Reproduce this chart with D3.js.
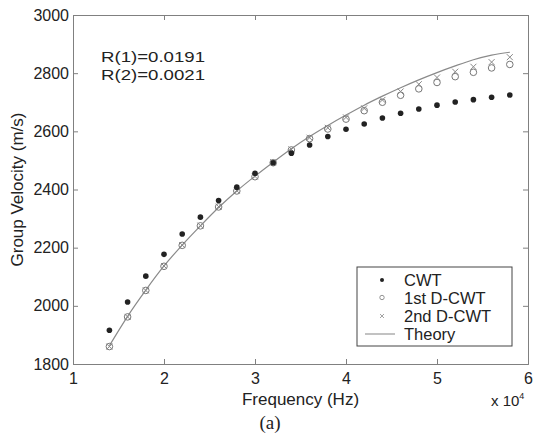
<!DOCTYPE html>
<html>
<head>
<meta charset="utf-8">
<script src="https://cdn.jsdelivr.net/npm/d3@7"></script>
<style>
  body { margin: 0; background: #fff; }
  text { font-family: "Liberation Sans", Arial, sans-serif; fill: #222; }
</style>
</head>
<body>
<div id="container"></div>
<script>
// frequency in units of 10^4 Hz
let freq = [1.4, 1.6, 1.8, 2.0, 2.2, 2.4, 2.6, 2.8, 3.0, 3.2, 3.4, 3.6,
            3.8, 4.0, 4.2, 4.4, 4.6, 4.8, 5.0, 5.2, 5.4, 5.6, 5.8];
let cwt = [1916, 2013, 2102, 2177, 2247, 2305, 2362, 2408, 2456, 2492, 2525, 2553,
           2582, 2607, 2625, 2646, 2662, 2677, 2690, 2701, 2709, 2717, 2725];
let dcwt1 = [1860, 1962, 2053, 2136, 2208, 2275, 2340, 2395, 2444, 2492, 2536, 2575,
             2608, 2642, 2671, 2700, 2724, 2746, 2768, 2788, 2803, 2818, 2830];
let dcwt2 = [1860, 1962, 2053, 2137, 2209, 2276, 2341, 2396, 2445, 2494, 2538, 2578,
             2612, 2648, 2679, 2708, 2737, 2762, 2785, 2805, 2822, 2838, 2855];
let theory = [1863, 1964, 2054, 2137, 2209, 2275, 2338, 2395, 2446, 2494, 2540, 2582,
              2620, 2656, 2690, 2721, 2750, 2777, 2802, 2825, 2846, 2862, 2872];
let xTicks = [1, 2, 3, 4, 5, 6];
let yTicks = [1800, 2000, 2200, 2400, 2600, 2800, 3000];
let legendLabels = ["CWT", "1st D-CWT", "2nd D-CWT", "Theory"];
let notes = ["R(1)=0.0191", "R(2)=0.0021"];

let svg = d3.select("#container")
  .append("svg")
    .attr("width", 533)
    .attr("height", 444)
;

let plotLeft = 73, plotRight = 528, plotTop = 15, plotBottom = 364;

let x = d3.scaleLinear().domain([1, 6]).range([plotLeft, plotRight]);
let y = d3.scaleLinear().domain([1800, 3000]).range([plotBottom, plotTop]);

let frameColor = "#808080";

// axes with inward ticks
let xAxis = svg.append("g")
  .attr("transform", "translate(0," + plotBottom + ")")
  .call(d3.axisBottom(x).tickValues(xTicks).tickSize(-5).tickPadding(9).tickFormat(d3.format("d")));
let xAxisTop = svg.append("g")
  .attr("transform", "translate(0," + plotTop + ")")
  .call(d3.axisTop(x).tickValues(xTicks).tickSize(-5).tickFormat(""));
let yAxis = svg.append("g")
  .attr("transform", "translate(" + plotLeft + ",0)")
  .call(d3.axisLeft(y).tickValues(yTicks).tickSize(-5).tickPadding(4).tickFormat(d3.format("d")));
let yAxisRight = svg.append("g")
  .attr("transform", "translate(" + plotRight + ",0)")
  .call(d3.axisRight(y).tickValues(yTicks).tickSize(-5).tickFormat(""));

[xAxis, xAxisTop, yAxis, yAxisRight].forEach(function(a){
  a.selectAll("path.domain").attr("stroke", frameColor);
  a.selectAll(".tick line").attr("stroke", frameColor);
  a.selectAll(".tick text")
    .style("font-family", "Liberation Sans, Arial, sans-serif")
    .style("font-size", "16px")
    .attr("fill", "#222");
});

// axis labels
svg.append("text")
  .attr("x", (plotLeft + plotRight) / 2)
  .attr("y", 405)
  .attr("text-anchor", "middle")
  .style("font-size", "17px")
  .text("Frequency (Hz)");

let expo = svg.append("text")
  .attr("x", 491)
  .attr("y", 406)
  .style("font-size", "15px");
expo.append("tspan").text("x 10");
expo.append("tspan").attr("dy", -7).style("font-size", "9px").text("4");

svg.append("text")
  .attr("transform", "translate(23," + (plotTop + plotBottom) / 2 + ") rotate(-90)")
  .attr("text-anchor", "middle")
  .style("font-size", "17px")
  .text("Group Velocity (m/s)");

svg.append("text")
  .attr("x", 270)
  .attr("y", 429)
  .attr("text-anchor", "middle")
  .style("font-family", "Liberation Serif, Times New Roman, serif")
  .style("font-size", "19px")
  .text("(a)");

// annotation, stretched a little like the original
svg.selectAll(".note").data(notes).enter()
  .append("text")
    .attr("class", "note")
    .attr("x", 101)
    .attr("y", function(d, i){ return 62 + i * 17.5; })
    .attr("textLength", 104)
    .attr("lengthAdjust", "spacingAndGlyphs")
    .style("font-size", "15px")
    .text(function(d){ return d; });

// theory line
let line = d3.line()
  .x(function(d, i){ return x(freq[i]); })
  .y(function(d){ return y(d); })
  .curve(d3.curveMonotoneX);

svg.append("path")
  .datum(theory)
  .attr("d", line)
  .attr("fill", "none")
  .attr("stroke", "#8a8a8a")
  .attr("stroke-width", 1.2);

// 1st D-CWT: open circles
svg.selectAll(".d1").data(dcwt1).enter()
  .append("circle")
    .attr("class", "d1")
    .attr("cx", function(d, i){ return x(freq[i]); })
    .attr("cy", function(d){ return y(d); })
    .attr("r", 3.3)
    .attr("fill", "none")
    .attr("stroke", "#777")
    .attr("stroke-width", 1);

// 2nd D-CWT: crosses
function crossPath(cx, cy, s){
  return "M" + (cx - s) + "," + (cy - s) + "L" + (cx + s) + "," + (cy + s) +
         "M" + (cx - s) + "," + (cy + s) + "L" + (cx + s) + "," + (cy - s);
}
svg.selectAll(".d2").data(dcwt2).enter()
  .append("path")
    .attr("class", "d2")
    .attr("d", function(d, i){ return crossPath(x(freq[i]), y(d), 3); })
    .attr("stroke", "#888")
    .attr("stroke-width", 1);

// CWT: filled dots
svg.selectAll(".cwt").data(cwt).enter()
  .append("circle")
    .attr("class", "cwt")
    .attr("cx", function(d, i){ return x(freq[i]); })
    .attr("cy", function(d){ return y(d); })
    .attr("r", 2.8)
    .attr("fill", "#222");

// legend
let lg = svg.append("g").attr("transform", "translate(357,267)");
lg.append("rect")
  .attr("width", 155).attr("height", 79)
  .attr("fill", "#fff")
  .attr("stroke", "#444")
  .attr("stroke-width", 1);

let rowY = [13, 30.5, 49, 67];
legendLabels.forEach(function(label, i){
  let cy = rowY[i];
  if (i == 0) {
    lg.append("circle").attr("cx", 25).attr("cy", cy).attr("r", 2).attr("fill", "#222");
  }
  else if (i == 1) {
    lg.append("circle").attr("cx", 25).attr("cy", cy).attr("r", 2.2)
      .attr("fill", "none").attr("stroke", "#888").attr("stroke-width", 0.9);
  }
  else if (i == 2) {
    lg.append("path").attr("d", crossPath(25, cy, 2)).attr("stroke", "#999").attr("stroke-width", 0.9);
  }
  else {
    lg.append("line").attr("x1", 8).attr("x2", 38).attr("y1", cy).attr("y2", cy)
      .attr("stroke", "#999").attr("stroke-width", 1.2);
  }
  lg.append("text")
    .attr("x", 47)
    .attr("y", cy + 6)
    .style("font-size", "16.5px")
    .text(label);
});
</script>
</body>
</html>
